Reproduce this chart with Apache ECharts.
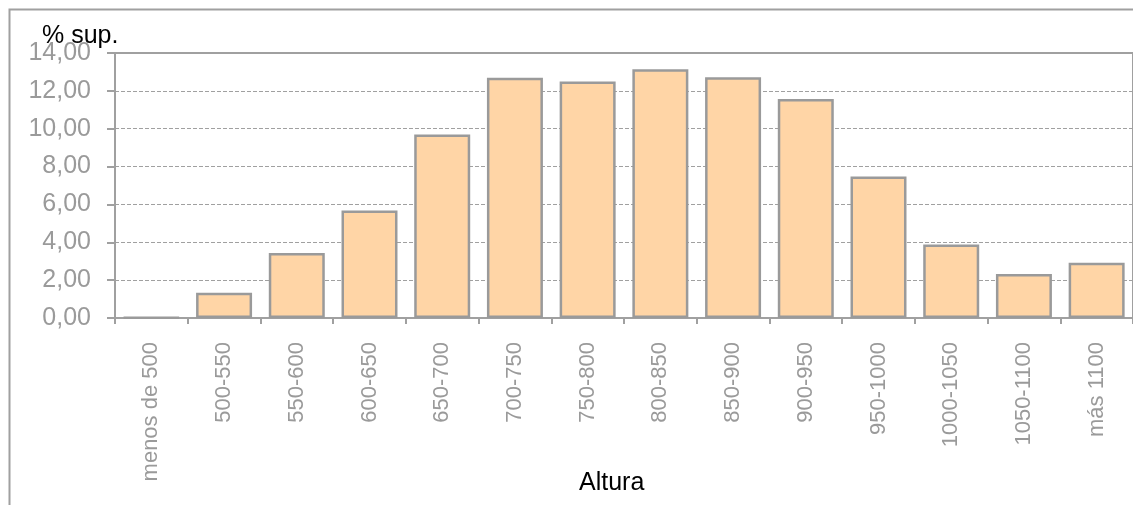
<!DOCTYPE html>
<html>
<head>
<meta charset="utf-8">
<style>
  html, body { margin: 0; padding: 0; background: #ffffff; }
  #chart { width: 1133px; height: 505px; }
</style>
<script src="https://cdn.jsdelivr.net/npm/echarts@6/dist/echarts.min.js"></script>
</head>
<body>
<div id="chart"></div>
<script>
// Altitude bands (m) and share of surface (%) in each band
const categories = ['menos de 500', '500-550', '550-600', '600-650', '650-700', '700-750', '750-800',
  '800-850', '850-900', '900-950', '950-1000', '1000-1050', '1050-1100', 'más 1100'];
const surfacePct = [0.02, 1.34, 3.43, 5.68, 9.70, 12.69, 12.50, 13.14, 12.72, 11.57, 7.47, 3.88, 2.32, 2.92];
const yAxisTitle = '% sup.';
const xAxisTitle = 'Altura';

const FONT = '"Liberation Sans", Arial, sans-serif';
const GREY = '#9a9a9a';

const chart = echarts.init(document.getElementById('chart'), null, { renderer: 'canvas' });

chart.setOption({
  animation: false,
  backgroundColor: '#ffffff',
  grid: {
    left: 115, top: 53, width: 1020, height: 265,
    show: true, borderColor: '#a0a0a0', borderWidth: 2, backgroundColor: 'transparent'
  },
  graphic: [
    {
      type: 'rect', left: 7, top: 7, z: -1,
      shape: { x: 0, y: 0, width: 1200, height: 600 },
      style: { fill: 'none', stroke: '#a0a0a0', lineWidth: 2 }
    },
    {
      type: 'text', x: 42, y: 36,
      style: { text: yAxisTitle, font: '25px ' + FONT, fill: '#000000', verticalAlign: 'middle' }
    },
    {
      type: 'text', x: 579, y: 483,
      style: { text: xAxisTitle, font: '25px ' + FONT, fill: '#000000', verticalAlign: 'middle' }
    }
  ],
  xAxis: {
    type: 'category',
    data: categories,
    axisLine: { lineStyle: { color: '#a0a0a0', width: 2 } },
    axisTick: { show: true, length: 6, inside: false, lineStyle: { color: '#a0a0a0', width: 2 } },
    axisLabel: {
      rotate: 90, margin: 24, interval: 0,
      color: GREY, fontFamily: FONT, fontSize: 22
    }
  },
  yAxis: {
    type: 'value',
    min: 0, max: 14, interval: 2,
    axisLine: { show: true, lineStyle: { color: '#a0a0a0', width: 2 } },
    axisTick: { show: true, length: 8, lineStyle: { color: '#a0a0a0', width: 2 } },
    splitLine: { show: true, lineStyle: { color: '#a0a0a0', width: 1, type: [4, 2] } },
    axisLabel: {
      margin: 24, color: GREY, fontFamily: FONT, fontSize: 25,
      formatter: v => v.toFixed(2).replace('.', ',')
    }
  },
  series: [{
    type: 'bar',
    data: surfacePct,
    barCategoryGap: '23%',
    itemStyle: { color: '#ffd5a6', borderColor: '#9a9a9a', borderWidth: 2.5 }
  }]
});
</script>
</body>
</html>
